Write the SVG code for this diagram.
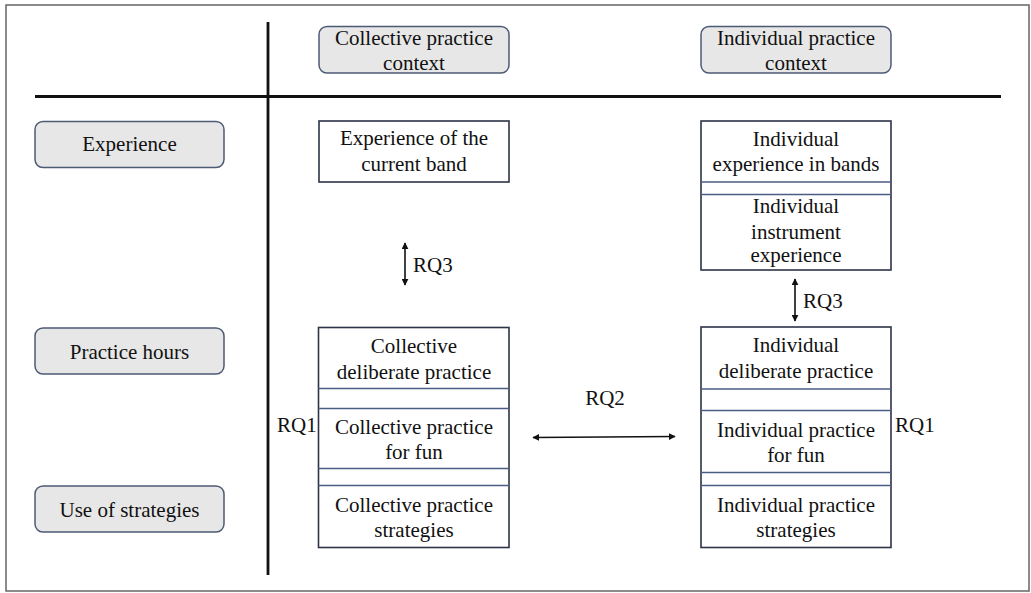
<svg xmlns="http://www.w3.org/2000/svg" width="1031" height="593" viewBox="0 0 1031 593" font-family="'Liberation Serif', 'Times New Roman', 'DejaVu Serif', serif">
<style>
text{font-family:'Liberation Serif','Times New Roman','DejaVu Serif',serif;font-size:21px;fill:#111;text-anchor:middle}
.lab{fill:#e7e7e7;stroke:#4d5a75;stroke-width:1.5}
.box{fill:#fff;stroke:#2c3447;stroke-width:1.6}
.sep{stroke:#4a5d85;stroke-width:1.3}
.axis{stroke:#111;stroke-width:2.8}
.conn{stroke:#111;stroke-width:1.6;fill:none}
.st{text-anchor:start}
</style>
<defs>
<marker id="ah" viewBox="0 0 10 10" refX="9" refY="5" markerWidth="7" markerHeight="7" markerUnits="userSpaceOnUse" orient="auto-start-reverse">
<path d="M0,0 L10,5 L0,10 z" fill="#111"/>
</marker>
</defs>
<rect x="0" y="0" width="1031" height="593" fill="#fff"/>
<rect x="6" y="5" width="1023" height="586" fill="none" stroke="#666" stroke-width="1.5"/>
<g id="axes">
<line class="axis" x1="268" y1="22" x2="268" y2="575"/>
<line class="axis" x1="35" y1="96.5" x2="1001" y2="96.5"/>
</g>
<g id="hdr-collective">
<rect class="lab" x="319" y="26.5" width="190" height="46.5" rx="8"/>
<text x="414" y="45">Collective practice</text>
<text x="414" y="70">context</text>
</g>
<g id="hdr-individual">
<rect class="lab" x="701" y="26.5" width="190" height="46.5" rx="8"/>
<text x="796" y="45">Individual practice</text>
<text x="796" y="70">context</text>
</g>
<g id="row-experience">
<rect class="lab" x="35" y="121.5" width="189" height="46" rx="8"/>
<text x="129.5" y="151">Experience</text>
</g>
<g id="row-practice">
<rect class="lab" x="35" y="328" width="189" height="46" rx="8"/>
<text x="129.5" y="359">Practice hours</text>
</g>
<g id="row-strategies">
<rect class="lab" x="35" y="486" width="189" height="46" rx="8"/>
<text x="129.5" y="517">Use of strategies</text>
</g>
<g id="coll-experience">
<rect class="box" x="319" y="121" width="190" height="61"/>
<text x="414" y="145">Experience of the</text>
<text x="414" y="171">current band</text>
</g>
<g id="ind-experience">
<rect class="box" x="701" y="121" width="190" height="149"/>
<line class="sep" x1="701" y1="182" x2="891" y2="182"/>
<line class="sep" x1="701" y1="194.5" x2="891" y2="194.5"/>
<text x="796" y="146">Individual</text>
<text x="796" y="171">experience in bands</text>
<text x="796" y="213">Individual</text>
<text x="796" y="239">instrument</text>
<text x="796" y="262">experience</text>
</g>
<g id="coll-practice">
<rect class="box" x="318.5" y="327.5" width="190.5" height="220"/>
<line class="sep" x1="318.5" y1="388.5" x2="509" y2="388.5"/>
<line class="sep" x1="318.5" y1="408.5" x2="509" y2="408.5"/>
<line class="sep" x1="318.5" y1="468.5" x2="509" y2="468.5"/>
<line class="sep" x1="318.5" y1="485.5" x2="509" y2="485.5"/>
<text x="414" y="353">Collective</text>
<text x="414" y="379">deliberate practice</text>
<text x="414" y="434">Collective practice</text>
<text x="414" y="459">for fun</text>
<text x="414" y="512">Collective practice</text>
<text x="414" y="537">strategies</text>
</g>
<g id="ind-practice">
<rect class="box" x="701" y="327" width="190" height="220.5"/>
<line class="sep" x1="701" y1="389" x2="891" y2="389"/>
<line class="sep" x1="701" y1="410.5" x2="891" y2="410.5"/>
<line class="sep" x1="701" y1="472.5" x2="891" y2="472.5"/>
<line class="sep" x1="701" y1="485.5" x2="891" y2="485.5"/>
<text x="796" y="352">Individual</text>
<text x="796" y="378">deliberate practice</text>
<text x="796" y="437">Individual practice</text>
<text x="796" y="462">for fun</text>
<text x="796" y="512">Individual practice</text>
<text x="796" y="537">strategies</text>
</g>
<g id="connectors">
<line class="conn" x1="405" y1="243" x2="405" y2="285" marker-start="url(#ah)" marker-end="url(#ah)"/>
<text class="st" x="413" y="272">RQ3</text>
<line class="conn" x1="795" y1="279" x2="795" y2="321" marker-start="url(#ah)" marker-end="url(#ah)"/>
<text class="st" x="803" y="308">RQ3</text>
<line class="conn" x1="533" y1="437.5" x2="675" y2="436.5" marker-start="url(#ah)" marker-end="url(#ah)"/>
<text x="605" y="405">RQ2</text>
<text class="st" x="277" y="432">RQ1</text>
<text class="st" x="895" y="432">RQ1</text>
</g>
</svg>
